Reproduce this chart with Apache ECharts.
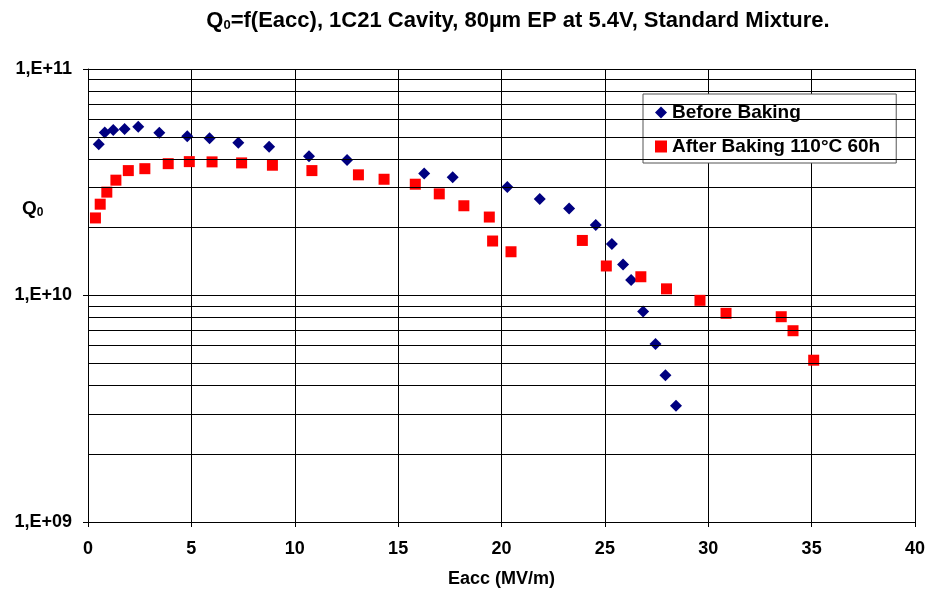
<!DOCTYPE html>
<html>
<head>
<meta charset="utf-8">
<script src="https://cdn.jsdelivr.net/npm/echarts@6/dist/echarts.min.js"></script>
<style>
html,body{margin:0;padding:0;background:#fff;}
#c{width:928px;height:594px;}
</style>
</head>
<body>
<div id="c"></div>
<script>
// ---- data ----
const seriesNames = ['Before Baking', 'After Baking 110°C 60h'];
const beforeE = [0.52,0.81,1.22,1.77,2.43,3.45,4.80,5.88,7.27,8.76,10.69,12.53,16.26,17.64,20.28,21.85,23.27,24.56,25.34,25.88,26.27,26.85,27.45,27.93,28.44];
const beforeQ = [4.65e10,5.25e10,5.38e10,5.43e10,5.56e10,5.23e10,5.05e10,4.94e10,4.73e10,4.54e10,4.12e10,3.96e10,3.46e10,3.33e10,3.01e10,2.67e10,2.42e10,2.05e10,1.69e10,1.37e10,1.17e10,8.5e9,6.1e9,4.44e9,3.26e9];
const afterE = [0.36,0.59,0.91,1.35,1.95,2.75,3.88,4.90,6.00,7.43,8.92,10.83,13.08,14.32,15.83,16.99,18.18,19.41,19.57,20.46,23.91,25.07,26.74,27.98,29.60,30.86,33.53,34.10,35.10];
const afterQ = [2.20e10,2.53e10,2.86e10,3.23e10,3.56e10,3.63e10,3.82e10,3.90e10,3.89e10,3.85e10,3.76e10,3.56e10,3.41e10,3.26e10,3.10e10,2.81e10,2.49e10,2.22e10,1.74e10,1.56e10,1.75e10,1.35e10,1.21e10,1.07e10,9.52e9,8.34e9,8.06e9,6.99e9,5.18e9];
const xTicks = [0,5,10,15,20,25,30,35,40];
const yTickLabels = ['1,E+09','1,E+10','1,E+11'];
const minorGridValues = [2e9,3e9,4e9,5e9,6e9,7e9,8e9,9e9,2e10,3e10,4e10,5e10,6e10,7e10,8e10,9e10];

const chart = echarts.init(document.getElementById('c'), null, {renderer:'canvas'});
const FONT = 'Liberation Sans, Arial, sans-serif';
const pairs = (xs, ys) => xs.map((x, i) => [x, ys[i]]);

chart.setOption({
  animation: false,
  backgroundColor: '#fff',
  title: {
    text: 'Q{sub|0}=f(Eacc), 1C21 Cavity, 80µm EP at 5.4V, Standard Mixture.',
    left: 513, top: 4, textAlign: 'center',
    textStyle: {
      fontFamily: FONT, fontWeight: 'bold', fontSize: 22, color: '#000',
      rich: { sub: { fontFamily: FONT, fontWeight: 'bold', fontSize: 13, color: '#000', padding: [10,0,0,0] } }
    }
  },
  graphic: [{
    type: 'text', left: 22, top: 199,
    style: {
      text: 'Q{sub|0}', fontFamily: FONT, fontWeight: 'bold', fontSize: 19, fill: '#000',
      rich: { sub: { fontFamily: FONT, fontWeight: 'bold', fontSize: 12, fill: '#000', padding: [8,0,0,0] } }
    }
  }],
  legend: {
    orient: 'vertical',
    left: 643, top: 94,
    padding: [9, 16, 7, 12],
    itemGap: 15,
    itemWidth: 12, itemHeight: 12,
    backgroundColor: '#fff',
    borderColor: '#555', borderWidth: 1,
    textStyle: { fontFamily: FONT, fontWeight: 'bold', fontSize: 19, color: '#000' },
    data: seriesNames
  },
  grid: { left: 88, right: 13, top: 69, bottom: 72, containLabel: false, outerBoundsMode: 'none' },
  xAxis: {
    type: 'value', min: 0, max: 40, interval: 5,
    name: 'Eacc (MV/m)', nameLocation: 'middle', nameGap: 48,
    nameTextStyle: { fontFamily: FONT, fontWeight: 'bold', fontSize: 18, color: '#000' },
    axisLine: { show: true, onZero: false, lineStyle: { color: '#000', width: 1 } },
    axisTick: { show: true, length: 5, lineStyle: { color: '#000' } },
    axisLabel: { margin: 18, fontFamily: FONT, fontWeight: 'bold', fontSize: 18, color: '#000',
      formatter: v => xTicks.includes(v) ? String(v) : '' },
    splitLine: { show: true, lineStyle: { color: '#000', width: 1 } }
  },
  yAxis: {
    type: 'log', logBase: 10, min: 1e9, max: 1e11,
    axisLine: { show: true, lineStyle: { color: '#000', width: 1 } },
    axisTick: { show: true, length: 5, lineStyle: { color: '#000' } },
    axisLabel: { margin: 16, fontFamily: FONT, fontWeight: 'bold', fontSize: 18, color: '#000',
      formatter: v => { const i = Math.round(Math.log10(v)) - 9; return yTickLabels[i] || ''; } },
    splitLine: { show: true, lineStyle: { color: '#000', width: 1 } }
  },
  series: [
    {
      name: seriesNames[0], type: 'scatter', symbol: 'diamond', symbolSize: 12,
      itemStyle: { color: '#000080', opacity: 1 },
      data: pairs(beforeE, beforeQ), z: 3,
      markLine: {
        silent: true, symbol: 'none', animation: false,
        label: { show: false },
        lineStyle: { color: '#000', width: 1, type: 'solid', opacity: 1 },
        emphasis: { disabled: true },
        data: minorGridValues.map(v => ({ yAxis: v }))
      }
    },
    {
      name: seriesNames[1], type: 'scatter', symbol: 'rect', symbolSize: 11,
      itemStyle: { color: '#ff0000', opacity: 1 },
      data: pairs(afterE, afterQ), z: 4
    }
  ]
});
</script>
</body>
</html>
